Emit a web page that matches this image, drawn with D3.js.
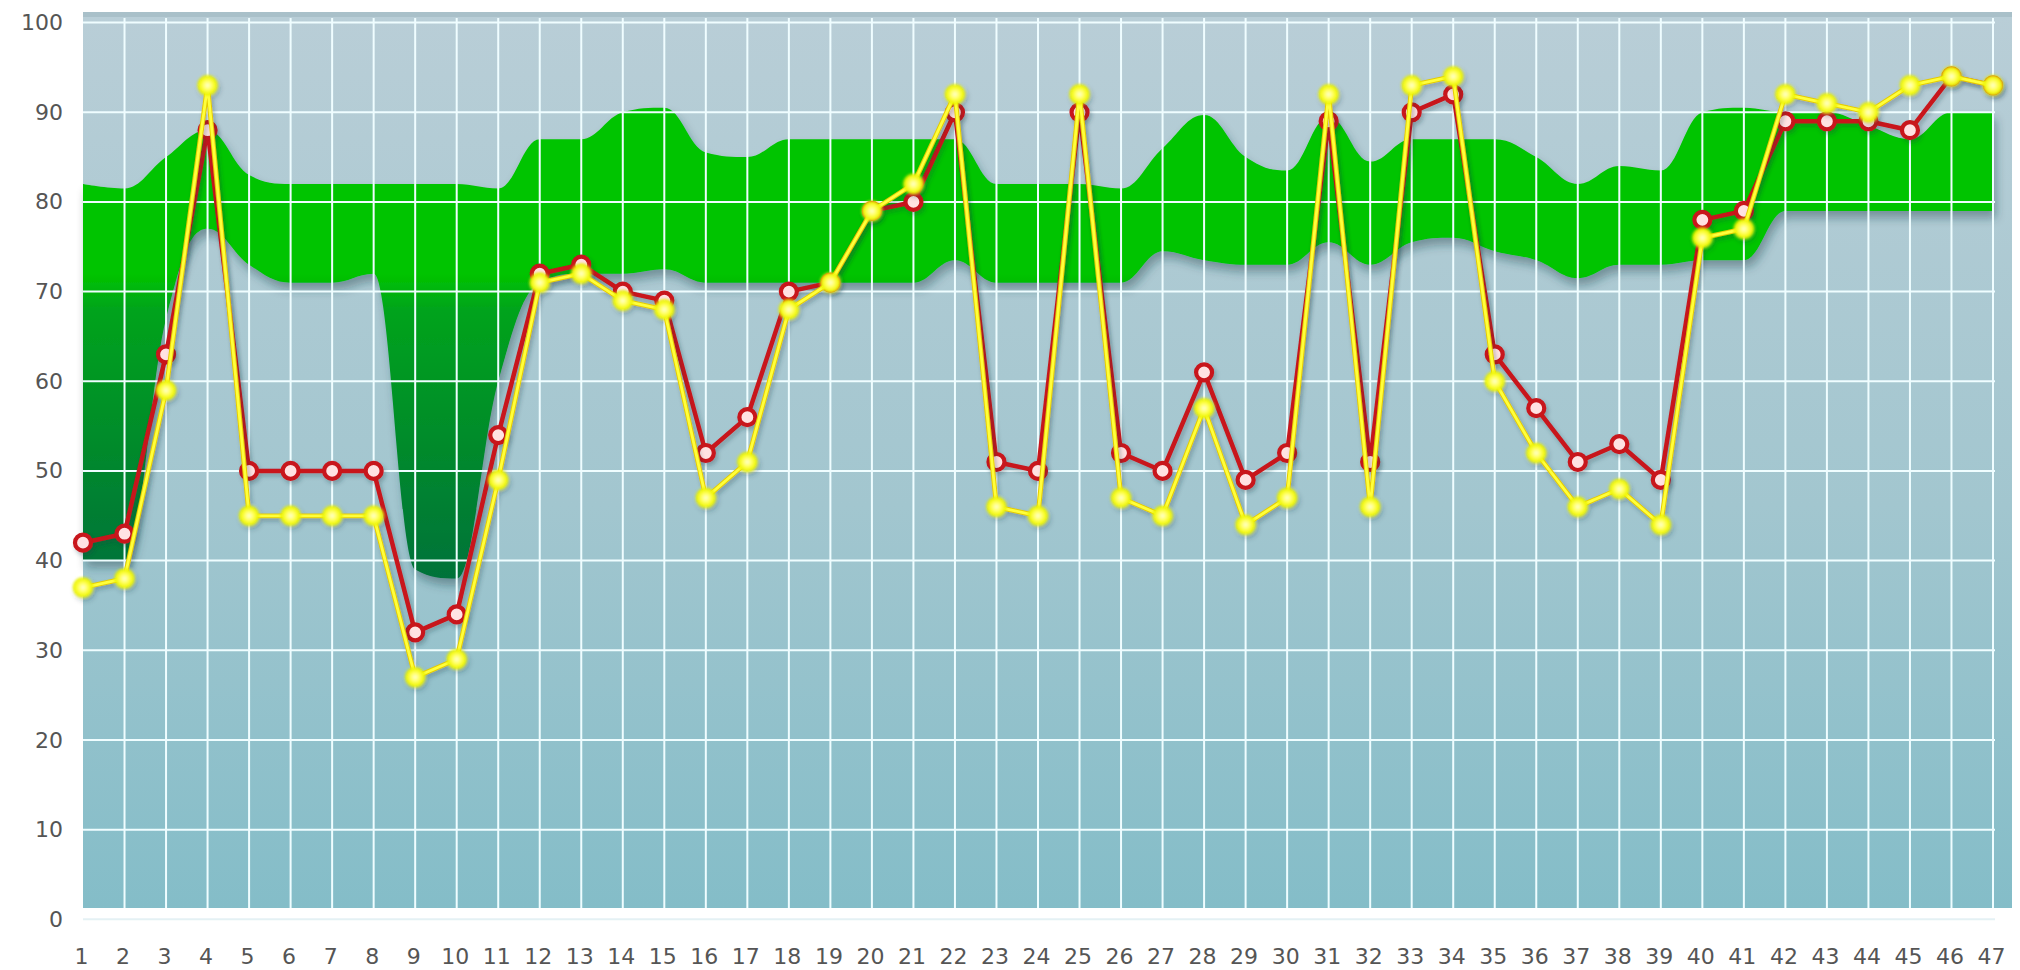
<!DOCTYPE html>
<html>
<head>
<meta charset="utf-8">
<script src="https://cdn.jsdelivr.net/npm/d3@7/dist/d3.min.js"></script>
<style>
  body { margin: 0; background: #fff; }
  .axis text { font-family: "DejaVu Sans", Verdana, sans-serif; font-size: 22px; fill: #555; }
</style>
</head>
<body>
<div id="container"></div>
<script>
/* DATA */
const days = [1, 2, 3, 4, 5, 6, 7, 8, 9, 10, 11, 12, 13, 14, 15, 16, 17, 18, 19, 20, 21, 22, 23, 24,
  25, 26, 27, 28, 29, 30, 31, 32, 33, 34, 35, 36, 37, 38, 39, 40, 41, 42, 43, 44, 45, 46, 47];

// green band: top and bottom edge
const bandHigh = [82, 81.5, 85, 88, 83, 82, 82, 82, 82, 82, 81.5, 87, 87, 90, 90.5, 85.5, 85, 87, 87, 87,
  87, 87, 82, 82, 82, 81.5, 86, 89.7, 85, 83.5, 89.5, 84.5, 87, 87, 87, 85, 82, 84, 83.5, 90,
  90.5, 90, 90, 88.5, 87, 90, 90];
const bandLow = [40, 40, 67, 77, 73, 71, 71, 72, 39, 38, 60, 71, 72, 72, 72.5, 71, 71, 71, 71, 71,
  71, 73.5, 71, 71, 71, 71, 74.5, 73.5, 73, 73, 75.5, 73, 75.5, 76, 74.5, 73.5, 71.5, 73, 73, 73.5,
  73.5, 79, 79, 79, 79, 79, 79];

// red series
const redValues = [42, 43, 63, 88, 50, 50, 50, 50, 32, 34, 54, 72, 73, 70, 69, 52, 56, 70, 71, 79,
  80, 90, 51, 50, 90, 52, 50, 61, 49, 52, 89, 51, 90, 92, 63, 57, 51, 53, 49, 78,
  79, 89, 89, 89, 88, 94, 93];
// yellow series
const yellowValues = [37, 38, 59, 93, 45, 45, 45, 45, 27, 29, 49, 71, 72, 69, 68, 47, 51, 68, 71, 79,
  82, 92, 46, 45, 92, 47, 45, 57, 44, 47, 92, 46, 93, 94, 60, 52, 46, 48, 44, 76,
  77, 92, 91, 90, 93, 94, 93];

const yTicks = [0, 10, 20, 30, 40, 50, 60, 70, 80, 90, 100];

/* CONSTANTS */
const width = 2020,
      height = 970,
      plotLeft = 83, plotRight = 1993,
      plotTop = 22.6, plotBottom = 919.3;

const band = days.map((d, i) => ({ day: d, hi: bandHigh[i], lo: bandLow[i] }));
const red = days.map((d, i) => ({ day: d, v: redValues[i] }));
const yellow = days.map((d, i) => ({ day: d, v: yellowValues[i] }));

/* SCALES */
const xScale = d3.scaleLinear().domain([1, 47]).range([plotLeft, plotRight]);
const yScale = d3.scaleLinear().domain([0, 100]).range([plotBottom, plotTop]);

// spline like the old chart tool: control points at 0.4 of the gap, no overshoot
function HighSpline(context) { this._context = context; }
HighSpline.prototype = {
  areaStart() { this._line = 0; },
  areaEnd() { this._line = NaN; },
  lineStart() { this._pts = []; },
  point(x, y) { this._pts.push([+x, +y]); },
  lineEnd() {
    const p = this._pts, n = p.length, c = this._context;
    if (n) {
      this._line ? c.lineTo(p[0][0], p[0][1]) : c.moveTo(p[0][0], p[0][1]);
      const lc = [], rc = [];
      for (let i = 0; i < n; i++) {
        const [x, y] = p[i];
        if (i === 0 || i === n - 1) { lc[i] = [x, y]; rc[i] = [x, y]; continue; }
        const [lx, ly] = p[i - 1], [nx, ny] = p[i + 1];
        const lcx = (1.5 * x + lx) / 2.5, rcx = (1.5 * x + nx) / 2.5;
        let lcy = (1.5 * y + ly) / 2.5, rcy = (1.5 * y + ny) / 2.5;
        const corr = ((rcy - lcy) * (rcx - x)) / (rcx - lcx) + y - rcy;
        lcy += corr; rcy += corr;
        if (lcy > ly && lcy > y) { lcy = Math.max(ly, y); rcy = 2 * y - lcy; }
        else if (lcy < ly && lcy < y) { lcy = Math.min(ly, y); rcy = 2 * y - lcy; }
        if (rcy > ny && rcy > y) { rcy = Math.max(ny, y); lcy = 2 * y - rcy; }
        else if (rcy < ny && rcy < y) { rcy = Math.min(ny, y); lcy = 2 * y - rcy; }
        lc[i] = [lcx, lcy]; rc[i] = [rcx, rcy];
      }
      for (let i = 1; i < n; i++) {
        c.bezierCurveTo(rc[i - 1][0], rc[i - 1][1], lc[i][0], lc[i][1], p[i][0], p[i][1]);
      }
    }
    if (this._line || (this._line !== 0 && n === 1)) c.closePath();
    this._line = 1 - this._line;
  }
};
const curveHigh = context => new HighSpline(context);

/* SVG */
const svg = d3.select("#container")
  .append("svg")
  .attr("width", width)
  .attr("height", height)
  .style("display", "block");

const defs = svg.append("defs");

const bg = defs.append("linearGradient").attr("id", "bg")
  .attr("x1", 0).attr("y1", 0).attr("x2", 0).attr("y2", 1);
bg.append("stop").attr("offset", "0%").attr("stop-color", "#b9ced7");
bg.append("stop").attr("offset", "55%").attr("stop-color", "#a2c6cf");
bg.append("stop").attr("offset", "100%").attr("stop-color", "#84bdc8");

const greenGrad = defs.append("linearGradient").attr("id", "green")
  .attr("gradientUnits", "userSpaceOnUse")
  .attr("x1", 0).attr("x2", 0)
  .attr("y1", yScale(72)).attr("y2", yScale(38));
greenGrad.append("stop").attr("offset", "0%").attr("stop-color", "#00c400");
greenGrad.append("stop").attr("offset", "12%").attr("stop-color", "#00a31c");
greenGrad.append("stop").attr("offset", "100%").attr("stop-color", "#00723a");

const yGlow = defs.append("radialGradient").attr("id", "ydot");
yGlow.append("stop").attr("offset", "0%").attr("stop-color", "#ffffd0");
yGlow.append("stop").attr("offset", "45%").attr("stop-color", "#ffff50");
yGlow.append("stop").attr("offset", "78%").attr("stop-color", "#eef600");
yGlow.append("stop").attr("offset", "100%").attr("stop-color", "#e6f000").attr("stop-opacity", 0.3);

const shadow = defs.append("filter").attr("id", "bandShadow")
  .attr("x", "-5%").attr("y", "-10%").attr("width", "110%").attr("height", "130%");
shadow.append("feDropShadow").attr("dx", 3).attr("dy", 7).attr("stdDeviation", 5)
  .attr("flood-color", "#1d3c47").attr("flood-opacity", 0.4);

const lineShadow = defs.append("filter").attr("id", "lineShadow")
  .attr("x", "-5%").attr("y", "-10%").attr("width", "110%").attr("height", "130%");
lineShadow.append("feDropShadow").attr("dx", 2).attr("dy", 3).attr("stdDeviation", 2)
  .attr("flood-color", "#203840").attr("flood-opacity", 0.3);

const soft = defs.append("filter").attr("id", "soft")
  .attr("x", "-50%").attr("y", "-50%").attr("width", "200%").attr("height", "200%");
soft.append("feGaussianBlur").attr("stdDeviation", 0.8);

/* PANEL */
svg.append("rect")
  .attr("x", plotLeft).attr("y", 12)
  .attr("width", 2012 - plotLeft).attr("height", 908 - 12)
  .attr("fill", "url(#bg)");
svg.append("rect")
  .attr("x", plotLeft).attr("y", 12)
  .attr("width", 2012 - plotLeft).attr("height", 5)
  .attr("fill", "#a9c0c9");

/* GREEN BAND */
const area = d3.area()
  .x(d => xScale(d.day))
  .y0(d => yScale(d.lo))
  .y1(d => yScale(d.hi))
  .curve(curveHigh);

svg.append("path")
  .datum(band)
  .attr("d", area)
  .attr("fill", "url(#green)")
  .attr("filter", "url(#bandShadow)");

/* GRID */
svg.append("g")
  .selectAll("line")
  .data(yTicks)
  .join("line")
  .attr("x1", plotLeft).attr("x2", 1995)
  .attr("y1", d => yScale(d)).attr("y2", d => yScale(d))
  .attr("stroke", d => d === 0 ? "#e4f1f4" : "#effdff")
  .attr("stroke-width", 2);

svg.append("g")
  .selectAll("line")
  .data(days.slice(1))
  .join("line")
  .attr("x1", d => xScale(d)).attr("x2", d => xScale(d))
  .attr("y1", 18).attr("y2", 908)
  .attr("stroke", "#effdff")
  .attr("stroke-width", 2);

/* LINES */
const line = d3.line()
  .x(d => xScale(d.day))
  .y(d => yScale(d.v));

const gRed = svg.append("g").attr("filter", "url(#lineShadow)");
gRed.append("path")
  .datum(red)
  .attr("d", line)
  .attr("fill", "none")
  .attr("stroke", "#c8141a")
  .attr("stroke-width", 4.5)
  .attr("stroke-linejoin", "round");
gRed.selectAll("circle")
  .data(red)
  .join("circle")
  .attr("cx", d => xScale(d.day))
  .attr("cy", d => yScale(d.v))
  .attr("r", 8)
  .attr("fill", "#ffe2e2")
  .attr("stroke", "#c8141a")
  .attr("stroke-width", 4.2);

const gYellow = svg.append("g").attr("filter", "url(#lineShadow)");
gYellow.append("path")
  .datum(yellow)
  .attr("d", line)
  .attr("fill", "none")
  .attr("stroke", "#e6cc00")
  .attr("stroke-width", 4.8)
  .attr("stroke-linejoin", "round");
gYellow.append("path")
  .datum(yellow)
  .attr("d", line)
  .attr("fill", "none")
  .attr("stroke", "#ffff3a")
  .attr("stroke-width", 2.8)
  .attr("stroke-linejoin", "round");
gYellow.selectAll("circle")
  .data(yellow)
  .join("circle")
  .attr("cx", d => xScale(d.day))
  .attr("cy", d => yScale(d.v))
  .attr("r", 11)
  .attr("fill", "url(#ydot)")
  .attr("filter", "url(#soft)");

/* AXES */
const yAxis = d3.axisLeft(yScale).tickValues(yTicks).tickSize(0).tickPadding(0);
svg.append("g")
  .attr("class", "axis")
  .attr("transform", "translate(63,0)")
  .call(yAxis)
  .call(g => g.select(".domain").remove());

const xAxis = d3.axisBottom(xScale).tickValues(days).tickSize(0).tickPadding(0).tickFormat(d3.format("d"));
svg.append("g")
  .attr("class", "axis")
  .attr("transform", "translate(-2,948)")
  .call(xAxis)
  .call(g => g.select(".domain").remove());
</script>
</body>
</html>
